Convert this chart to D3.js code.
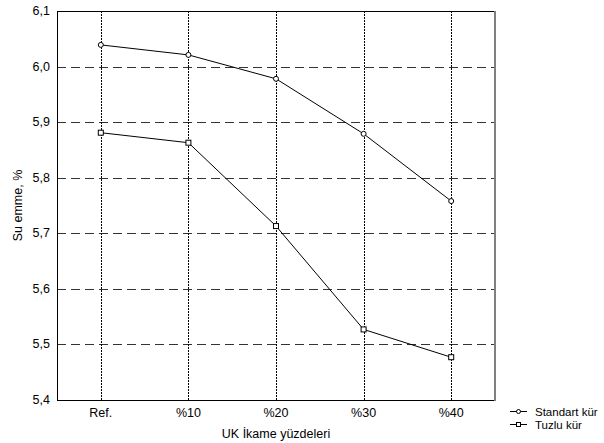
<!DOCTYPE html>
<html>
<head>
<meta charset="utf-8">
<script src="https://cdn.jsdelivr.net/npm/d3@7"></script>
<style>
  body { margin: 0; background: #fff; }
  svg { display: block; font-family: "Liberation Sans", Arial, sans-serif; }
</style>
</head>
<body>
<div id="chart"></div>
<script>
const categories = ["Ref.", "%10", "%20", "%30", "%40"];
const standart = [6.039, 6.021, 5.978, 5.879, 5.758];
const tuzlu = [5.881, 5.863, 5.713, 5.527, 5.477];
const yTicks = [5.4, 5.5, 5.6, 5.7, 5.8, 5.9, 6.0, 6.1];
const seriesNames = ["Standart kür", "Tuzlu kür"];

const width = 604, height = 443;
const margin = {left: 57, top: 11, right: 109, bottom: 43};
const fs = 12.5;

const svg = d3.select("#chart").append("svg")
    .attr("width", width).attr("height", height);

const x = d3.scalePoint()
    .domain(categories)
    .range([margin.left, width - margin.right])
    .padding(0.5);
const y = d3.scaleLinear()
    .domain([5.4, 6.1])
    .range([height - margin.bottom, margin.top]);

const x0 = margin.left, x1 = width - margin.right;
const y0 = height - margin.bottom, y1 = margin.top;

// horizontal dashed grid
svg.append("g")
    .selectAll("line")
    .data(yTicks.slice(1, -1))
    .enter().append("line")
    .attr("x1", x0).attr("x2", x1)
    .attr("y1", d => Math.round(y(d)) + 0.5)
    .attr("y2", d => Math.round(y(d)) + 0.5)
    .attr("stroke", "#333")
    .attr("stroke-dasharray", "9,5");

// vertical dotted grid
svg.append("g")
    .selectAll("line")
    .data(categories)
    .enter().append("line")
    .attr("x1", d => Math.round(x(d)) + 0.5)
    .attr("x2", d => Math.round(x(d)) + 0.5)
    .attr("y1", y1).attr("y2", y0)
    .attr("stroke", "#000")
    .attr("stroke-dasharray", "2,1");

// frame
svg.append("line").attr("x1", x0).attr("x2", x1).attr("y1", y1 + 0.5).attr("y2", y1 + 0.5).attr("stroke", "#000");
svg.append("line").attr("x1", x0 + 0.5).attr("x2", x0 + 0.5).attr("y1", y1).attr("y2", y0).attr("stroke", "#000");
svg.append("line").attr("x1", x0).attr("x2", x1).attr("y1", y0 + 0.5).attr("y2", y0 + 0.5).attr("stroke", "#000");
svg.append("line").attr("x1", x1).attr("x2", x1).attr("y1", y1).attr("y2", y0 + 1).attr("stroke", "#808080").attr("stroke-width", 2);

// y tick labels
svg.append("g")
    .selectAll("text")
    .data(yTicks)
    .enter().append("text")
    .attr("x", x0 - 7)
    .attr("y", d => y(d) + 4)
    .attr("text-anchor", "end")
    .attr("font-size", fs)
    .text(d => d3.format(".1f")(d).replace(".", ","));

// x tick labels
svg.append("g")
    .selectAll("text")
    .data(categories)
    .enter().append("text")
    .attr("x", d => x(d))
    .attr("y", y0 + 17)
    .attr("text-anchor", "middle")
    .attr("font-size", fs)
    .text(d => d);

// axis titles
svg.append("text")
    .attr("x", (x0 + x1) / 2)
    .attr("y", height - 5)
    .attr("text-anchor", "middle")
    .attr("font-size", fs)
    .text("UK İkame yüzdeleri");
svg.append("text")
    .attr("transform", `translate(22,${(y0 + y1) / 2}) rotate(-90)`)
    .attr("text-anchor", "middle")
    .attr("font-size", fs)
    .text("Su emme, %");

const line = d3.line().x((d, i) => x(categories[i])).y(d => y(d));

function drawSeries(vals, shape) {
  svg.append("path")
      .datum(vals)
      .attr("d", line)
      .attr("fill", "none")
      .attr("stroke", "#000");
  const g = svg.append("g");
  vals.forEach((v, i) => {
    if (shape === "circle") {
      g.append("circle").attr("cx", x(categories[i])).attr("cy", y(v)).attr("r", 2.5)
          .attr("fill", "#fff").attr("stroke", "#000");
    } else {
      g.append("rect").attr("x", x(categories[i]) - 2.5).attr("y", y(v) - 2.5)
          .attr("width", 5).attr("height", 5)
          .attr("fill", "#fff").attr("stroke", "#000");
    }
  });
}
drawSeries(standart, "circle");
drawSeries(tuzlu, "square");

// legend
const legend = svg.append("g").attr("transform", "translate(510,0)");
seriesNames.forEach((name, i) => {
  const ly = 411.5 + i * 13;
  legend.append("line").attr("x1", 0).attr("x2", 17).attr("y1", ly).attr("y2", ly).attr("stroke", "#000");
  if (i === 0) {
    legend.append("circle").attr("cx", 8.5).attr("cy", ly).attr("r", 2).attr("fill", "#fff").attr("stroke", "#000");
  } else {
    legend.append("rect").attr("x", 6.5).attr("y", ly - 2).attr("width", 4).attr("height", 4).attr("fill", "#fff").attr("stroke", "#000");
  }
  legend.append("text").attr("x", 25).attr("y", ly + 4).attr("font-size", 11.5).text(name);
});
</script>
</body>
</html>
